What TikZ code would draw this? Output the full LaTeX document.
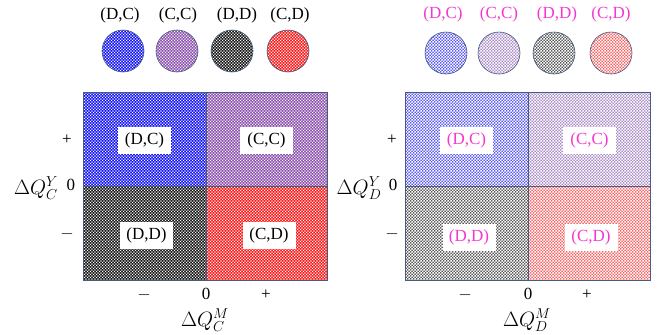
\documentclass[tikz,border=0pt]{standalone}
\usepackage{fontspec}
\setmainfont{Liberation Serif}
\usetikzlibrary{patterns}
\pgfdeclarepatternformonly{wdots}{\pgfpointorigin}{\pgfpoint{3.4pt}{3.4pt}}{\pgfpoint{3.4pt}{3.4pt}}{%
  \pgfpathrectangle{\pgfpoint{0pt}{0pt}}{\pgfpoint{1.3pt}{1.3pt}}%
  \pgfpathrectangle{\pgfpoint{1.7pt}{1.7pt}}{\pgfpoint{1.3pt}{1.3pt}}%
  \pgfusepath{fill}}
\pgfdeclarepatternformonly{wcheck}{\pgfpointorigin}{\pgfpoint{3.4pt}{3.4pt}}{\pgfpoint{3.4pt}{3.4pt}}{%
  \pgfpathrectangle{\pgfpoint{0pt}{0pt}}{\pgfpoint{1.7pt}{1.7pt}}%
  \pgfpathrectangle{\pgfpoint{1.7pt}{1.7pt}}{\pgfpoint{1.7pt}{1.7pt}}%
  \pgfusepath{fill}}
\definecolor{edgec}{RGB}{70,90,130}
\definecolor{cblue}{RGB}{20,20,245}
\definecolor{cpurple}{RGB}{140,80,175}
\definecolor{cblack}{RGB}{25,25,25}
\definecolor{cred}{RGB}{250,25,25}
\definecolor{lblue}{RGB}{90,90,245}
\definecolor{lpurple}{RGB}{170,140,200}
\definecolor{lblack}{RGB}{90,90,90}
\definecolor{lred}{RGB}{250,100,100}
\definecolor{magtext}{RGB}{245,55,205}
\tikzset{
  lab/.style={font=\fontsize{17}{20}\selectfont, inner sep=0pt},
  tick/.style={font=\fontsize{17}{20}\selectfont, inner sep=0pt},
  axis/.style={font=\fontsize{20}{24}\selectfont, inner sep=0pt},
  qbox/.style={fill=white, font=\fontsize{17}{20}\selectfont, minimum width=53pt, minimum height=27pt, inner sep=0pt},
  dotsw/.style={pattern=wdots, pattern color=white},
  checkw/.style={pattern=wcheck, pattern color=white},
  circ/.style={circle, minimum size=42pt, inner sep=0pt, draw=edgec, line width=0.6pt},
}
\begin{document}
\begin{tikzpicture}[x=1pt,y=-1pt]
\useasboundingbox (0,0) rectangle (657,335);
% ---------- left panel ----------
\foreach \cx/\lx/\col/\txt/\nm in {123/120/cblue/{(D,C)}/a,177/178/cpurple/{(C,C)}/b,232/237/cblack/{(D,D)}/c,288/290/cred/{(C,D)}/d}{
  \fill[\col] (\cx,51) circle (21);
  \fill[dotsw] (\cx,51) circle (21);
  \node[circ] (lc\nm) at (\cx,51) {};
  \node[lab] (lt\nm) at (\lx,15) {\txt};
}
\fill[cblue] (83,92) rectangle (206,186);
\fill[cpurple] (206,92) rectangle (327,186);
\fill[cblack] (83,186) rectangle (206,280);
\fill[cred] (206,186) rectangle (327,280);
\fill[dotsw] (83,92) rectangle (327,280);
\draw[edgec, line width=0.6pt] (83,92) rectangle (327,280);
\draw[edgec, line width=0.6pt] (206,92) -- (206,280);
\draw[edgec, line width=0.6pt] (83,186) -- (327,186);
\node[qbox] (ldc) at (144.5,140.5) {(D,C)};
\node[qbox] (lcc) at (266.5,140.5) {(C,C)};
\node[qbox] (ldd) at (146.5,235.5) {(D,D)};
\node[qbox] (lcd) at (269,235.5) {(C,D)};
\node[tick] (lyp) at (67,140) {+};
\node[tick] (ly0) at (71,185) {0};
\node[tick] (lym) at (67,234) {$-$};
\node[axis] (lyl) at (36,188) {$\Delta Q_C^Y$};
\node[tick] (lxm) at (144,295) {$-$};
\node[tick] (lx0) at (206,294) {0};
\node[tick] (lxp) at (266,295) {+};
\node[axis] (lxl) at (205,320) {$\Delta Q_C^M$};
% ---------- right panel ----------
\foreach \cx/\lx/\col/\txt/\nm in {446/443/lblue/{(D,C)}/a,499/499/lpurple/{(C,C)}/b,554/557/lblack/{(D,D)}/c,611/611/lred/{(C,D)}/d}{
  \fill[\col] (\cx,53) circle (21);
  \fill[checkw] (\cx,53) circle (21);
  \node[circ] (rc\nm) at (\cx,53) {};
  \node[lab, text=magtext] (rt\nm) at (\lx,14) {\txt};
}
\fill[lblue] (405,92) rectangle (528,186);
\fill[lpurple] (528,92) rectangle (650,186);
\fill[lblack] (405,186) rectangle (528,280);
\fill[lred] (528,186) rectangle (650,280);
\fill[checkw] (405,92) rectangle (650,280);
\draw[edgec, line width=0.6pt] (405,92) rectangle (650,280);
\draw[edgec, line width=0.6pt] (528,92) -- (528,280);
\draw[edgec, line width=0.6pt] (405,186) -- (650,186);
\node[qbox, text=magtext] (rdc) at (466.5,140) {(D,C)};
\node[qbox, text=magtext] (rcc) at (589.5,140) {(C,C)};
\node[qbox, text=magtext] (rdd) at (469,237) {(D,D)};
\node[qbox, text=magtext] (rcd) at (591,237) {(C,D)};
\node[tick] (ryp) at (392,140) {+};
\node[tick] (ry0) at (393,185) {0};
\node[tick] (rym) at (392,234) {$-$};
\node[axis] (ryl) at (359,188) {$\Delta Q_D^Y$};
\node[tick] (rxm) at (465,295) {$-$};
\node[tick] (rx0) at (528,294) {0};
\node[tick] (rxp) at (587,295) {+};
\node[axis] (rxl) at (527,320) {$\Delta Q_D^M$};
\end{tikzpicture}
\end{document}
